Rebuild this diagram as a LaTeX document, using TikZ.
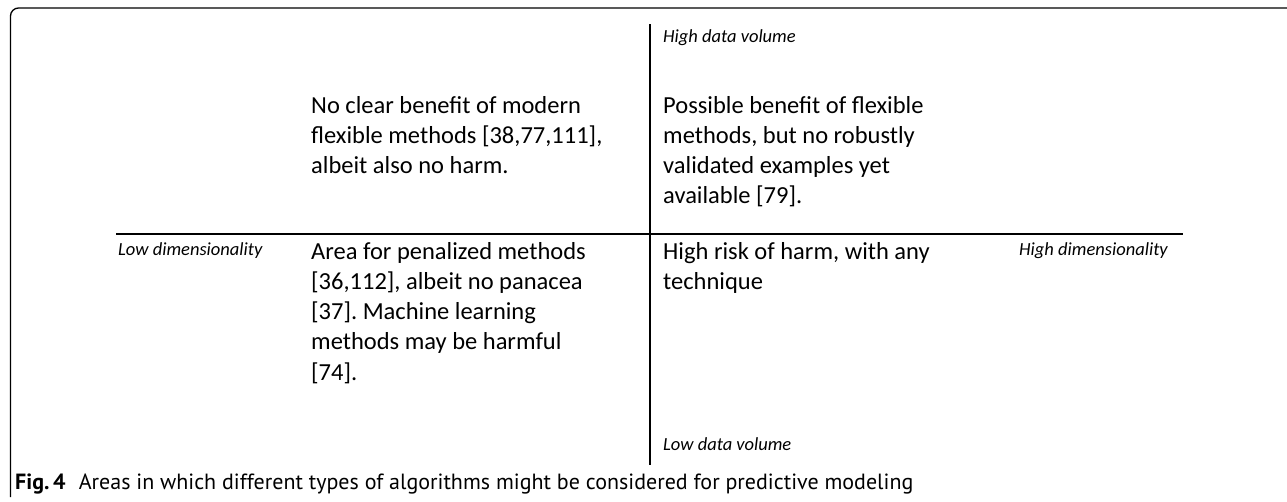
\documentclass[tikz,border=0pt]{standalone}
\usepackage{fontspec}
\setmainfont{Carlito}
\newfontfamily\capfont{PT Sans}
\frenchspacing
\begin{document}
\begin{tikzpicture}[x=1pt,y=-1pt,
  axis/.style={line width=1.6pt,black},
  framestyle/.style={line width=1.3pt,black},
  quad/.style={anchor=north west,inner sep=0pt,align=left,font=\fontsize{24.5}{30.2}\selectfont,text=black},
  lab/.style={inner sep=0pt,font=\fontsize{18.5}{20}\selectfont\itshape,text=black},
  captext/.style={anchor=west,inner sep=0pt,font=\capfont\fontsize{22}{24}\selectfont}]
\useasboundingbox (0,0) rectangle (1287,501);
\draw[framestyle,rounded corners=8pt] (1290,8) -- (10.5,8) -- (10.5,497);
\coordinate (vt) at (650,24);
\coordinate (vb) at (650,465);
\coordinate (hl) at (116,234);
\coordinate (hr) at (1183,234);
\draw[axis] (vt) -- (vb);
\draw[axis] (hl) -- (hr);
\node[lab,anchor=west] (hdv) at (663,38) {High data volume};
\node[lab,anchor=west] (ldv) at (663,444) {Low data volume};
\node[lab,anchor=west] (ldim) at (118,251) {Low dimensionality};
\node[lab,anchor=east] (hdim) at (1168,251) {High dimensionality};
\node[quad] (tl) at (311,96) {No clear benefit of modern\\flexible methods [38,77,111],\\albeit also no harm.};
\node[quad] (tr) at (663,96) {Possible benefit of flexible\\methods, but no robustly\\validated examples yet\\available [79].};
\node[quad] (bl) at (311,242) {Area for penalized methods\\{[36,112]}, albeit no panacea\\{[37]}. Machine learning\\methods may be harmful\\{[74]}.};
\node[quad] (br) at (663,242) {High risk of harm, with any\\technique};
\node[captext] (caption) at (15,484) {\textbf{Fig.\,4}\hspace{0.6em}Areas in which different types of algorithms might be considered for predictive modeling};
\end{tikzpicture}
\end{document}
